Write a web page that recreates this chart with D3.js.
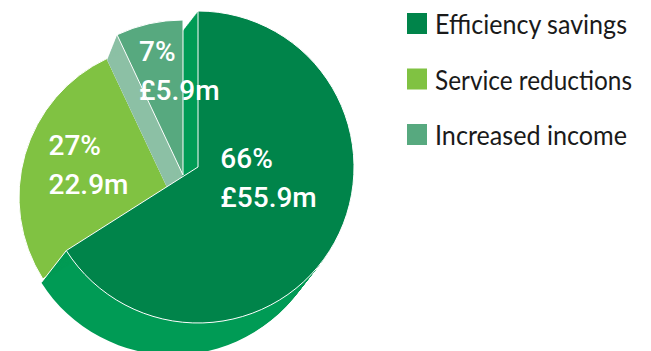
<!DOCTYPE html>
<html>
<head>
<meta charset="utf-8">
<script src="https://cdn.jsdelivr.net/npm/d3@7"></script>
<style>
  html, body { margin: 0; padding: 0; background: #fff; }
  svg { display: block; }
</style>
</head>
<body>
<svg id="chart" width="651" height="351"></svg>
<script>
// Savings split
const categories = ["Efficiency savings", "Service reductions", "Increased income"];
const percents = [66, 27, 7];
const amounts = ["£55.9m", "22.9m", "£5.9m"];

// Palette: top faces and the extruded side walls
const faceColors = ["#00844a", "#80c242", "#57a97f"];
const wallColors = ["#009b55", "#80c242", "#8cc0a5"];

// Geometry of each exploded piece: face centre, radius, extrusion vector
const pieces = [
  { cx: 198, cy: 167, r: 156, dx: -25, dy: 32 },
  { cx: 172, cy: 197, r: 153, dx: 0,   dy: 0  },
  { cx: 183, cy: 175, r: 155, dx: -10, dy: 25 }
];
// Label anchor relative to the slice centroid (left edge, first baseline)
const labelShift = [
  { x: -46, y: -37 },
  { x: -50, y: -21 },
  { x: -27, y: -38 }
];
const lineGap = 39;

const svg = d3.select("#chart");
const arcs = d3.pie().sort(null).value(d => d)(percents);

function arcGen(i) {
  return d3.arc().innerRadius(0).outerRadius(pieces[i].r);
}

function drawSweep(g, i) {
  const p = pieces[i];
  const steps = 36;
  const path = arcGen(i)(arcs[i]);
  for (let k = 1; k <= steps; k++) {
    const t = k / steps;
    g.append("path")
      .attr("d", path)
      .attr("transform", `translate(${p.cx + p.dx * t},${p.cy + p.dy * t})`)
      .attr("fill", wallColors[i]);
  }
}

function drawFace(g, i) {
  const p = pieces[i];
  g.append("path")
    .attr("d", arcGen(i)(arcs[i]))
    .attr("transform", `translate(${p.cx},${p.cy})`)
    .attr("fill", faceColors[i])
    .attr("stroke", "#fff")
    .attr("stroke-width", 1)
    .attr("stroke-linejoin", "round");
}

function outerPoint(i, angle) {
  const p = pieces[i];
  return [p.cx + p.r * Math.sin(angle), p.cy - p.r * Math.cos(angle)];
}

const pie = svg.append("g");
drawFace(pie, 1);          // service reductions (back)
drawSweep(pie, 0);         // efficiency wall
drawSweep(pie, 2);         // income wall
drawFace(pie, 2);          // increased income
drawFace(pie, 0);          // efficiency savings (front)

// silhouette edge of the efficiency wall
{
  const p = pieces[0];
  const a = outerPoint(0, arcs[0].endAngle);
  pie.append("line")
    .attr("x1", a[0]).attr("y1", a[1])
    .attr("x2", a[0] + p.dx).attr("y2", a[1] + p.dy)
    .attr("stroke", "#fff").attr("stroke-width", 1);
}

// value labels
arcs.forEach((a, i) => {
  const p = pieces[i];
  const c = arcGen(i).centroid(a);
  const x = p.cx + c[0] + labelShift[i].x;
  const y = p.cy + c[1] + labelShift[i].y;
  const t = svg.append("text")
    .attr("x", x).attr("y", y)
    .attr("fill", "#fff")
    .style("font-family", "Roboto, 'Liberation Sans', sans-serif")
    .style("font-weight", 500)
    .style("font-size", "28px");
  t.append("tspan").attr("x", x).attr("y", y).text(percents[i] + "%");
  t.append("tspan").attr("x", x).attr("y", y + lineGap).text(amounts[i]);
});

// legend
const legend = svg.append("g").attr("transform", "translate(407,13)");
const legendWidths = [192, 197, 192];
categories.forEach((name, i) => {
  const row = legend.append("g").attr("transform", `translate(0,${i * 55.5})`);
  row.append("rect")
    .attr("width", 20).attr("height", 21)
    .attr("fill", faceColors[i]);
  row.append("text")
    .attr("x", 28).attr("y", 21)
    .attr("fill", "#1a1a1a")
    .attr("textLength", legendWidths[i])
    .attr("lengthAdjust", "spacingAndGlyphs")
    .style("font-family", "Lato, 'Liberation Sans', sans-serif")
    .style("font-size", "26px")
    .text(name);
});
</script>
</body>
</html>
